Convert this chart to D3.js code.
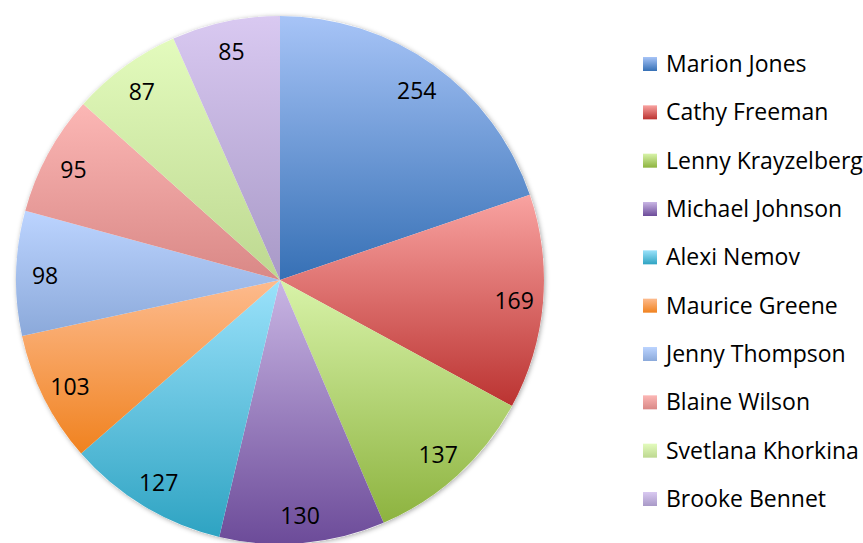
<!DOCTYPE html>
<html>
<head>
<meta charset="utf-8">
<script src="https://cdn.jsdelivr.net/npm/d3@7"></script>
<style>
  body { margin: 0; background: #fff; }
  text { font-family: "Open Sans", "Noto Sans", sans-serif; fill: #000; }
</style>
</head>
<body>
<div id="chart"></div>
<script>
// datos del grafico
const atletas = ["Marion Jones", "Cathy Freeman", "Lenny Krayzelberg", "Michael Johnson", "Alexi Nemov",
  "Maurice Greene", "Jenny Thompson", "Blaine Wilson", "Svetlana Khorkina", "Brooke Bennet"];
const medallas = [254, 169, 137, 130, 127, 103, 98, 95, 87, 85];
const coloresClaros = ["#a7c4f7", "#f9a3a1", "#d8f3a9", "#c9b6e4", "#9be2fb", "#fdbb8e", "#bcd4ff", "#fcb7b5", "#e3fbbd", "#d9c9f1"];
const coloresOscuros = ["#3670b5", "#bb3331", "#8db33f", "#6c4b99", "#2ea3c2", "#f0821f", "#8ba9da", "#d98886", "#bdd890", "#a899c7"];

const width = 863, height = 543;
const cx = 280, cy = 280, radio = 264, radioEtiqueta = 235;

const svg = d3.select("#chart").append("svg")
  .attr("width", width)
  .attr("height", height);

const defs = svg.append("defs");

// degradado vertical por cada serie
atletas.forEach((a, i) => {
  const g = defs.append("linearGradient")
    .attr("id", "grad" + i)
    .attr("x1", 0).attr("y1", 0).attr("x2", 0).attr("y2", 1);
  g.append("stop").attr("offset", "0%").attr("stop-color", coloresClaros[i]);
  g.append("stop").attr("offset", "100%").attr("stop-color", coloresOscuros[i]);
});

// sombra suave del pastel
const filtro = defs.append("filter").attr("id", "sombra")
  .attr("x", "-10%").attr("y", "-10%").attr("width", "120%").attr("height", "120%");
filtro.append("feDropShadow")
  .attr("dx", 1).attr("dy", 1).attr("stdDeviation", 2.5)
  .attr("flood-color", "#000").attr("flood-opacity", 0.35);

const pie = d3.pie().sort(null).value(d => d);
const arcos = pie(medallas);

const arc = d3.arc().innerRadius(0).outerRadius(radio);
const arcEtiqueta = d3.arc().innerRadius(radioEtiqueta).outerRadius(radioEtiqueta);

const g = svg.append("g")
  .attr("transform", `translate(${cx},${cy})`);

// fondo con sombra
g.append("circle")
  .attr("r", radio)
  .attr("fill", "#fff")
  .attr("filter", "url(#sombra)");

g.selectAll("path.slice")
  .data(arcos)
  .enter().append("path")
  .attr("class", "slice")
  .attr("d", arc)
  .attr("fill", (d, i) => `url(#grad${i})`);

g.selectAll("text.label")
  .data(arcos)
  .enter().append("text")
  .attr("class", "label")
  .attr("transform", d => `translate(${arcEtiqueta.centroid(d)})`)
  .attr("text-anchor", "middle")
  .attr("dy", "0.42em")
  .style("font-size", "23px")
  .text(d => d.data);

// leyenda
const leyenda = svg.append("g");
const yLeyenda = d3.scaleLinear().domain([0, atletas.length - 1]).range([64, 499]);

const item = leyenda.selectAll("g.item")
  .data(atletas)
  .enter().append("g")
  .attr("class", "item")
  .attr("transform", (d, i) => `translate(643,${yLeyenda(i)})`);

item.append("rect")
  .attr("x", 0).attr("y", -7)
  .attr("width", 14).attr("height", 14)
  .attr("fill", (d, i) => `url(#grad${i})`);

item.append("text")
  .attr("x", 23)
  .attr("dy", "0.35em")
  .style("font-size", "23px")
  .text(d => d);
</script>
</body>
</html>
